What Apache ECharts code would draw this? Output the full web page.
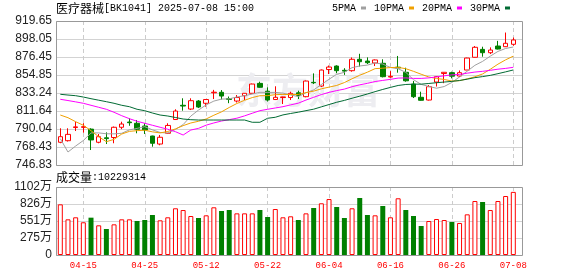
<!DOCTYPE html>
<html><head><meta charset="utf-8">
<script src="https://cdn.jsdelivr.net/npm/echarts@6/dist/echarts.min.js"></script>
<style>html,body{margin:0;padding:0;background:#fff}#c{width:578px;height:276px}</style>
</head><body><div id="c"></div>
<script>
// ---- data ----
const titleName = '医疗器械';
const titleCode = '[BK1041] 2025-07-08 15:00';
const volName = '成交量';
const dates = ['04-10','04-11','04-14','04-15','04-16','04-17','04-18','04-21','04-22','04-23','04-24','04-25','04-28','04-29','04-30','05-06','05-07','05-08','05-09','05-12','05-13','05-14','05-15','05-16','05-19','05-20','05-21','05-22','05-23','05-26','05-27','05-28','05-29','05-30','06-03','06-04','06-05','06-06','06-09','06-10','06-11','06-12','06-13','06-16','06-17','06-18','06-19','06-20','06-23','06-24','06-25','06-26','06-27','06-30','07-01','07-02','07-03','07-04','07-07','07-08'];
const opens  = [774.1,776.0,791.8,792.0,789.9,774.1,779.5,779.8,792.1,798.4,796.9,793.6,781.6,772.0,784.9,801.4,818.5,814.0,823.6,820.9,833.5,834.1,826.5,823.6,830.0,832.9,844.8,835.4,825.4,827.8,827.8,833.5,828.8,846.0,841.6,861.4,865.6,860.5,860.0,873.7,871.6,869.3,868.9,852.4,864.2,858.1,844.0,828.1,824.8,846.4,856.6,857.6,853.6,860.8,876.1,885.6,881.6,889.6,888.8,891.7];
const closes = [780.8,783.6,792.6,792.8,776.9,780.8,778.5,792.1,796.0,797.6,789.7,788.9,772.9,780.1,794.3,811.6,817.6,824.0,816.4,825.4,834.2,829.6,825.5,827.8,832.9,844.0,840.1,824.8,828.1,828.5,832.9,830.3,847.6,845.5,860.8,864.4,860.0,859.5,873.7,870.8,869.6,872.9,852.8,853.2,863.3,847.9,828.8,824.5,840.8,852.8,858.1,853.4,857.6,875.2,888.1,881.6,884.8,886.0,892.9,896.9];
const lows   = [773.0,775.0,787.6,785.6,764.8,772.9,772.0,772.9,789.9,793.9,784.9,784.0,768.8,770.5,784.0,800.8,812.0,812.8,815.2,816.8,826.0,825.4,821.0,821.8,824.8,832.6,839.6,823.0,824.8,820.0,824.8,826.0,828.1,844.0,840.4,856.0,857.0,855.0,858.8,865.0,868.0,865.6,852.0,851.5,857.6,846.8,827.2,824.0,824.2,841.0,845.0,850.8,852.4,860.8,875.9,876.8,880.0,885.5,888.4,890.0];
const highs  = [790.9,790.9,798.8,797.0,790.9,784.0,786.0,793.0,798.8,802.9,800.8,796.9,782.0,782.9,796.9,813.7,826.9,826.9,824.8,826.0,837.0,836.8,829.0,830.8,833.2,844.6,846.8,840.0,841.3,828.8,834.8,836.0,848.2,856.8,861.4,866.2,866.5,863.0,875.9,880.3,876.0,873.5,873.7,859.5,877.7,863.6,847.6,834.8,842.8,853.6,858.4,858.8,860.3,875.6,889.6,888.8,888.0,895.8,905.8,899.8];
const volumes = [8210000,5780000,6110000,5300000,6050000,4810000,4210000,4970000,5780000,5780000,5510000,5670000,6480000,5620000,6110000,7570000,7290000,6320000,6000000,6430000,7730000,7130000,7290000,6750000,6750000,6750000,7290000,6160000,7450000,6110000,6270000,5670000,6750000,7620000,8380000,9070000,7780000,6000000,7570000,9240000,6480000,6430000,7940000,6110000,9190000,7290000,6320000,4700000,5510000,5830000,5670000,5350000,5190000,6590000,8750000,8590000,7290000,8750000,9560000,10229314];
// moving averages at the start of the window (they depend on days before it)
const ma5Head  = [778.5,762.4,769.6,776.2];
const ma10Head = [806.8,803.6,798.8,794.5,788.0,780.8,774.8,777.6,784.0];
const ma20Head = [825.7,824.2,822.6,820.9,818.5,816.1,813.7,810.1,806.0,802.4,799.3,796.9,794.5,792.1,789.7,786.8,782.8,788.8,790.8];
const ma30Head = [831.7,830.8,830.0,828.4,826.4,824.6,822.8,820.9,818.5,816.8,813.7,812.0,809.2,806.8,805.6,803.8,802.0,801.2,800.8,800.8,800.8,800.8,800.8,800.8,800.8,798.1,798.1,802.9,804.1];
const priceTicks = ['746.83','768.43','790.04','811.64','833.24','854.85','876.45','898.05','919.65'];
const volTicks = ['0','275万','551万','826万','1102万'];
const maNames = ['5PMA','10PMA','20PMA','30PMA'];
const maColors = ['#a0a0a0','#f0a000','#ff00ff','#006a33'];

// ---- build ----
function ma(n, head){
  return closes.map((c,i)=>{
    if(i < n-1) return head[i];
    let s=0; for(let k=i-n+1;k<=i;k++) s+=closes[k];
    return +(s/n).toFixed(2);
  });
}
const maData = [ma(5,ma5Head), ma(10,ma10Head), ma(20,ma20Head), ma(30,ma30Head)];
const kData = dates.map((d,i)=>[opens[i],closes[i],lows[i],highs[i]]);
const volData = volumes.map((v,i)=>{
  const up = i===0 ? closes[i]>=opens[i] : closes[i]>=closes[i-1];
  return {value:v, itemStyle: up ? {color:'#ffffff',borderColor:'#ff0000',borderWidth:1} : {color:'#008000',borderColor:'#008000',borderWidth:0}};
});
const pMin = parseFloat(priceTicks[0]), pMax = parseFloat(priceTicks[priceTicks.length-1]);
const vMax = 11020000;

const L0 = 56, W0 = 466, L1 = 60.3, W1 = 453;
const T0 = 21, H0 = 144, T1 = 187, H1 = 68;
const dateInterval = (idx)=> idx % 8 === 3;
const latin = 'Liberation Mono';
const cjk = 'Noto Sans CJK SC';
const axisFont = 'Liberation Sans, Noto Sans CJK SC';
const richTitle = {c:{fontFamily:cjk,fontSize:12,color:'#000',fontWeight:'normal'},l:{fontFamily:latin,fontSize:10,color:'#000',fontWeight:'normal'}};

const chart = echarts.init(document.getElementById('c'), null, {renderer:'canvas'});
chart.setOption({
  animation:false,
  backgroundColor:'#fff',
  title:[
    {text:'{c|'+titleName+'}{l|'+titleCode+'}', left:56, top:2, padding:0,
     textStyle:{fontWeight:'normal', rich:richTitle}},
    {text:'{c|'+volName+'}{l|:'+volumes[volumes.length-1]+'}', left:56, top:171, padding:0,
     textStyle:{fontWeight:'normal', rich:richTitle}}
  ],
  legend:{data:maNames, right:68, top:3, padding:0, itemWidth:5, itemHeight:3, itemGap:8, align:'right', icon:'rect',
    textStyle:{fontFamily:latin,fontSize:10,color:'#000'}},
  grid:[
    {left:L0, top:T0, width:W0, height:H0, show:false},
    {left:L1, top:T0, width:W1, height:H0, show:false},
    {left:L0, top:T1, width:W0, height:H1, show:false},
    {left:L1, top:T1, width:W1, height:H1, show:false}
  ],
  xAxis:[
    {type:'value', gridIndex:0, min:0, max:1, show:false},
    {type:'category', gridIndex:1, data:dates, boundaryGap:false, axisLine:{show:false}, axisTick:{show:false}, axisLabel:{show:false},
      splitLine:{show:true, interval:dateInterval, lineStyle:{color:'#cccccc', type:[4,3], width:1}}},
    {type:'value', gridIndex:2, min:0, max:1, show:false},
    {type:'category', gridIndex:3, data:dates, boundaryGap:false, axisLine:{show:false}, axisTick:{show:false},
      axisLabel:{show:true, interval:dateInterval, color:'#ff0000', fontFamily:latin, fontSize:9, margin:6},
      splitLine:{show:true, interval:dateInterval, lineStyle:{color:'#cccccc', type:[4,3], width:1}}}
  ],
  yAxis:[
    {type:'value', gridIndex:0, min:0, max:priceTicks.length-1, interval:1, axisLine:{show:false}, axisTick:{show:false},
      axisLabel:{formatter:(v)=>priceTicks[Math.round(v)], color:'#222', fontFamily:axisFont, fontSize:12, margin:4},
      splitLine:{show:true, lineStyle:{color:'#d3d3d3', width:1}}},
    {type:'value', gridIndex:1, min:pMin, max:pMax, show:false, scale:true},
    {type:'value', gridIndex:2, min:0, max:volTicks.length-1, interval:1, axisLine:{show:false}, axisTick:{show:false},
      axisLabel:{formatter:(v)=>volTicks[Math.round(v)], color:'#222', fontFamily:axisFont, fontSize:12, margin:4},
      splitLine:{show:true, lineStyle:{color:'#d3d3d3', width:1}}},
    {type:'value', gridIndex:3, min:0, max:vMax, show:false}
  ],
  graphic:[
    {type:'text', left:236, top:72, z:1, silent:true,
      style:{text:'东方财富', font:'bold 36px "Noto Sans CJK SC"', fill:'#ededf1'}},
    {type:'rect', z:100, silent:true, shape:{x:L0+0.5, y:T0+0.5, width:W0, height:H0}, style:{fill:null, stroke:'#999', lineWidth:1}},
    {type:'rect', z:100, silent:true, shape:{x:L0+0.5, y:T1+0.5, width:W0, height:H1}, style:{fill:null, stroke:'#999', lineWidth:1}}
  ],
  series:[
    {type:'candlestick', name:'K', xAxisIndex:1, yAxisIndex:1, data:kData, barWidth:5, clip:false,
      itemStyle:{color:'#ffffff', color0:'#008000', borderColor:'#ff0000', borderColor0:'#008000', borderWidth:1}},
    ...maNames.map((n,k)=>({type:'line', name:n, xAxisIndex:1, yAxisIndex:1, data:maData[k], symbol:'none', z:3,
      lineStyle:{color:maColors[k], width:1}, itemStyle:{color:maColors[k]}})),
    {type:'bar', name:'VOL', xAxisIndex:3, yAxisIndex:3, data:volData, barWidth:5, clip:false}
  ]
});
</script></body></html>
